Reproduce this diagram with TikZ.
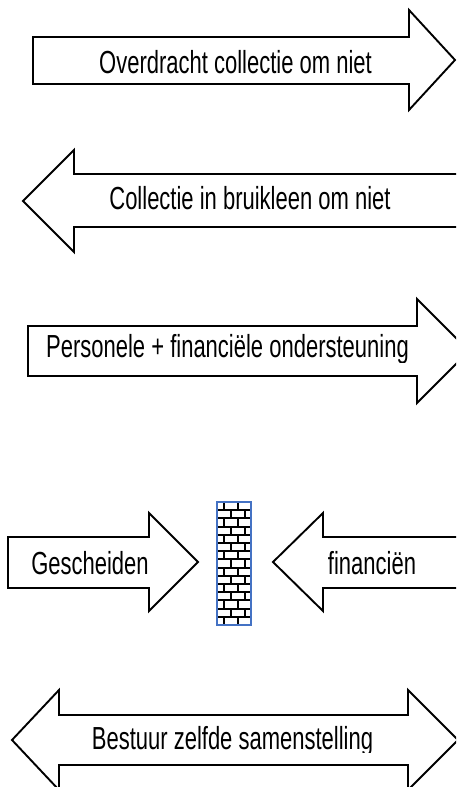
\documentclass[tikz,border=0pt]{standalone}
\usepackage{graphicx}
\usepackage{fontspec}
\setmainfont{Liberation Sans}
\definecolor{wallblue}{RGB}{68,114,196}
\tikzset{
  blockarrow/.style={draw=black, line width=1.9pt, fill=white, line join=miter, miter limit=10},
  arrowlabel/.style={anchor=base, inner sep=0pt, font=\fontsize{22}{26}\selectfont},
  brickline/.style={draw=black, line width=2pt},
}
\newcommand{\talltext}[1]{\scalebox{1}[1.45]{#1}}

\begin{document}
\begin{tikzpicture}[x=1pt,y=-1pt]
\useasboundingbox (0,0) rectangle (456,787);
\clip (0,0) rectangle (456,787);

% arrow to the right
\draw[blockarrow] (33,37) -- (409,37) -- (409,10) -- (455,60) -- (409,110) -- (409,84) -- (33,84) -- cycle;
\node[arrowlabel] (overdracht) at (235.5,73.5) {\talltext{Overdracht collectie om niet}};

% arrow to the left
\draw[blockarrow] (470,174) -- (74,174) -- (74,150) -- (23,201) -- (74,252) -- (74,227) -- (470,227) -- cycle;
\node[arrowlabel] (bruikleen) at (250,209) {\talltext{Collectie in bruikleen om niet}};

% arrow to the right, label clipped at the bottom
\draw[blockarrow] (28,326) -- (417,326) -- (417,299) -- (469,351) -- (417,403) -- (417,376) -- (28,376) -- cycle;
\begin{scope}
  \clip (0,320) rectangle (456,362);
  \node[arrowlabel] (ondersteuning) at (227.5,357) {\talltext{Personele + financiële ondersteuning}};
\end{scope}

% two arrows against the wall
\draw[blockarrow] (8,537) -- (149,537) -- (149,513) -- (198,562) -- (149,611) -- (149,588) -- (8,588) -- cycle;
\node[arrowlabel] (gescheiden) at (90,574) {\talltext{Gescheiden}};
\draw[blockarrow] (470,537) -- (323,537) -- (323,513) -- (273,562) -- (323,611) -- (323,588) -- (470,588) -- cycle;
\node[arrowlabel] (financien) at (372,574) {\talltext{financiën}};

% brick wall
\def \brickh {8.2}
\fill[white] (217,502) rectangle (251,625);
\foreach \r in {0,...,14}
{
  \pgfmathsetmacro{\ya}{502+\r*\brickh}
  \pgfmathsetmacro{\yb}{\ya+\brickh}
  \pgfmathsetmacro{\shift}{mod(\r,2)*7}
  \draw[brickline] (217,\yb) -- (251,\yb);
  \draw[brickline] (224+\shift,\ya) -- (224+\shift,\yb) (238+\shift,\ya) -- (238+\shift,\yb);
}
\draw[draw=wallblue, line width=2pt] (217,502) rectangle (251,625);

% double arrow
\draw[blockarrow] (59,715) -- (408,715) -- (408,690) -- (458,740) -- (408,790) -- (408,765) -- (59,765) -- (59,790) -- (12,740) -- (59,690) -- cycle;
\begin{scope}
  \clip (0,700) rectangle (456,752);
  \node[arrowlabel] (bestuur) at (232.5,749.5) {\talltext{Bestuur zelfde samenstelling}};
\end{scope}
\end{tikzpicture}
\end{document}
